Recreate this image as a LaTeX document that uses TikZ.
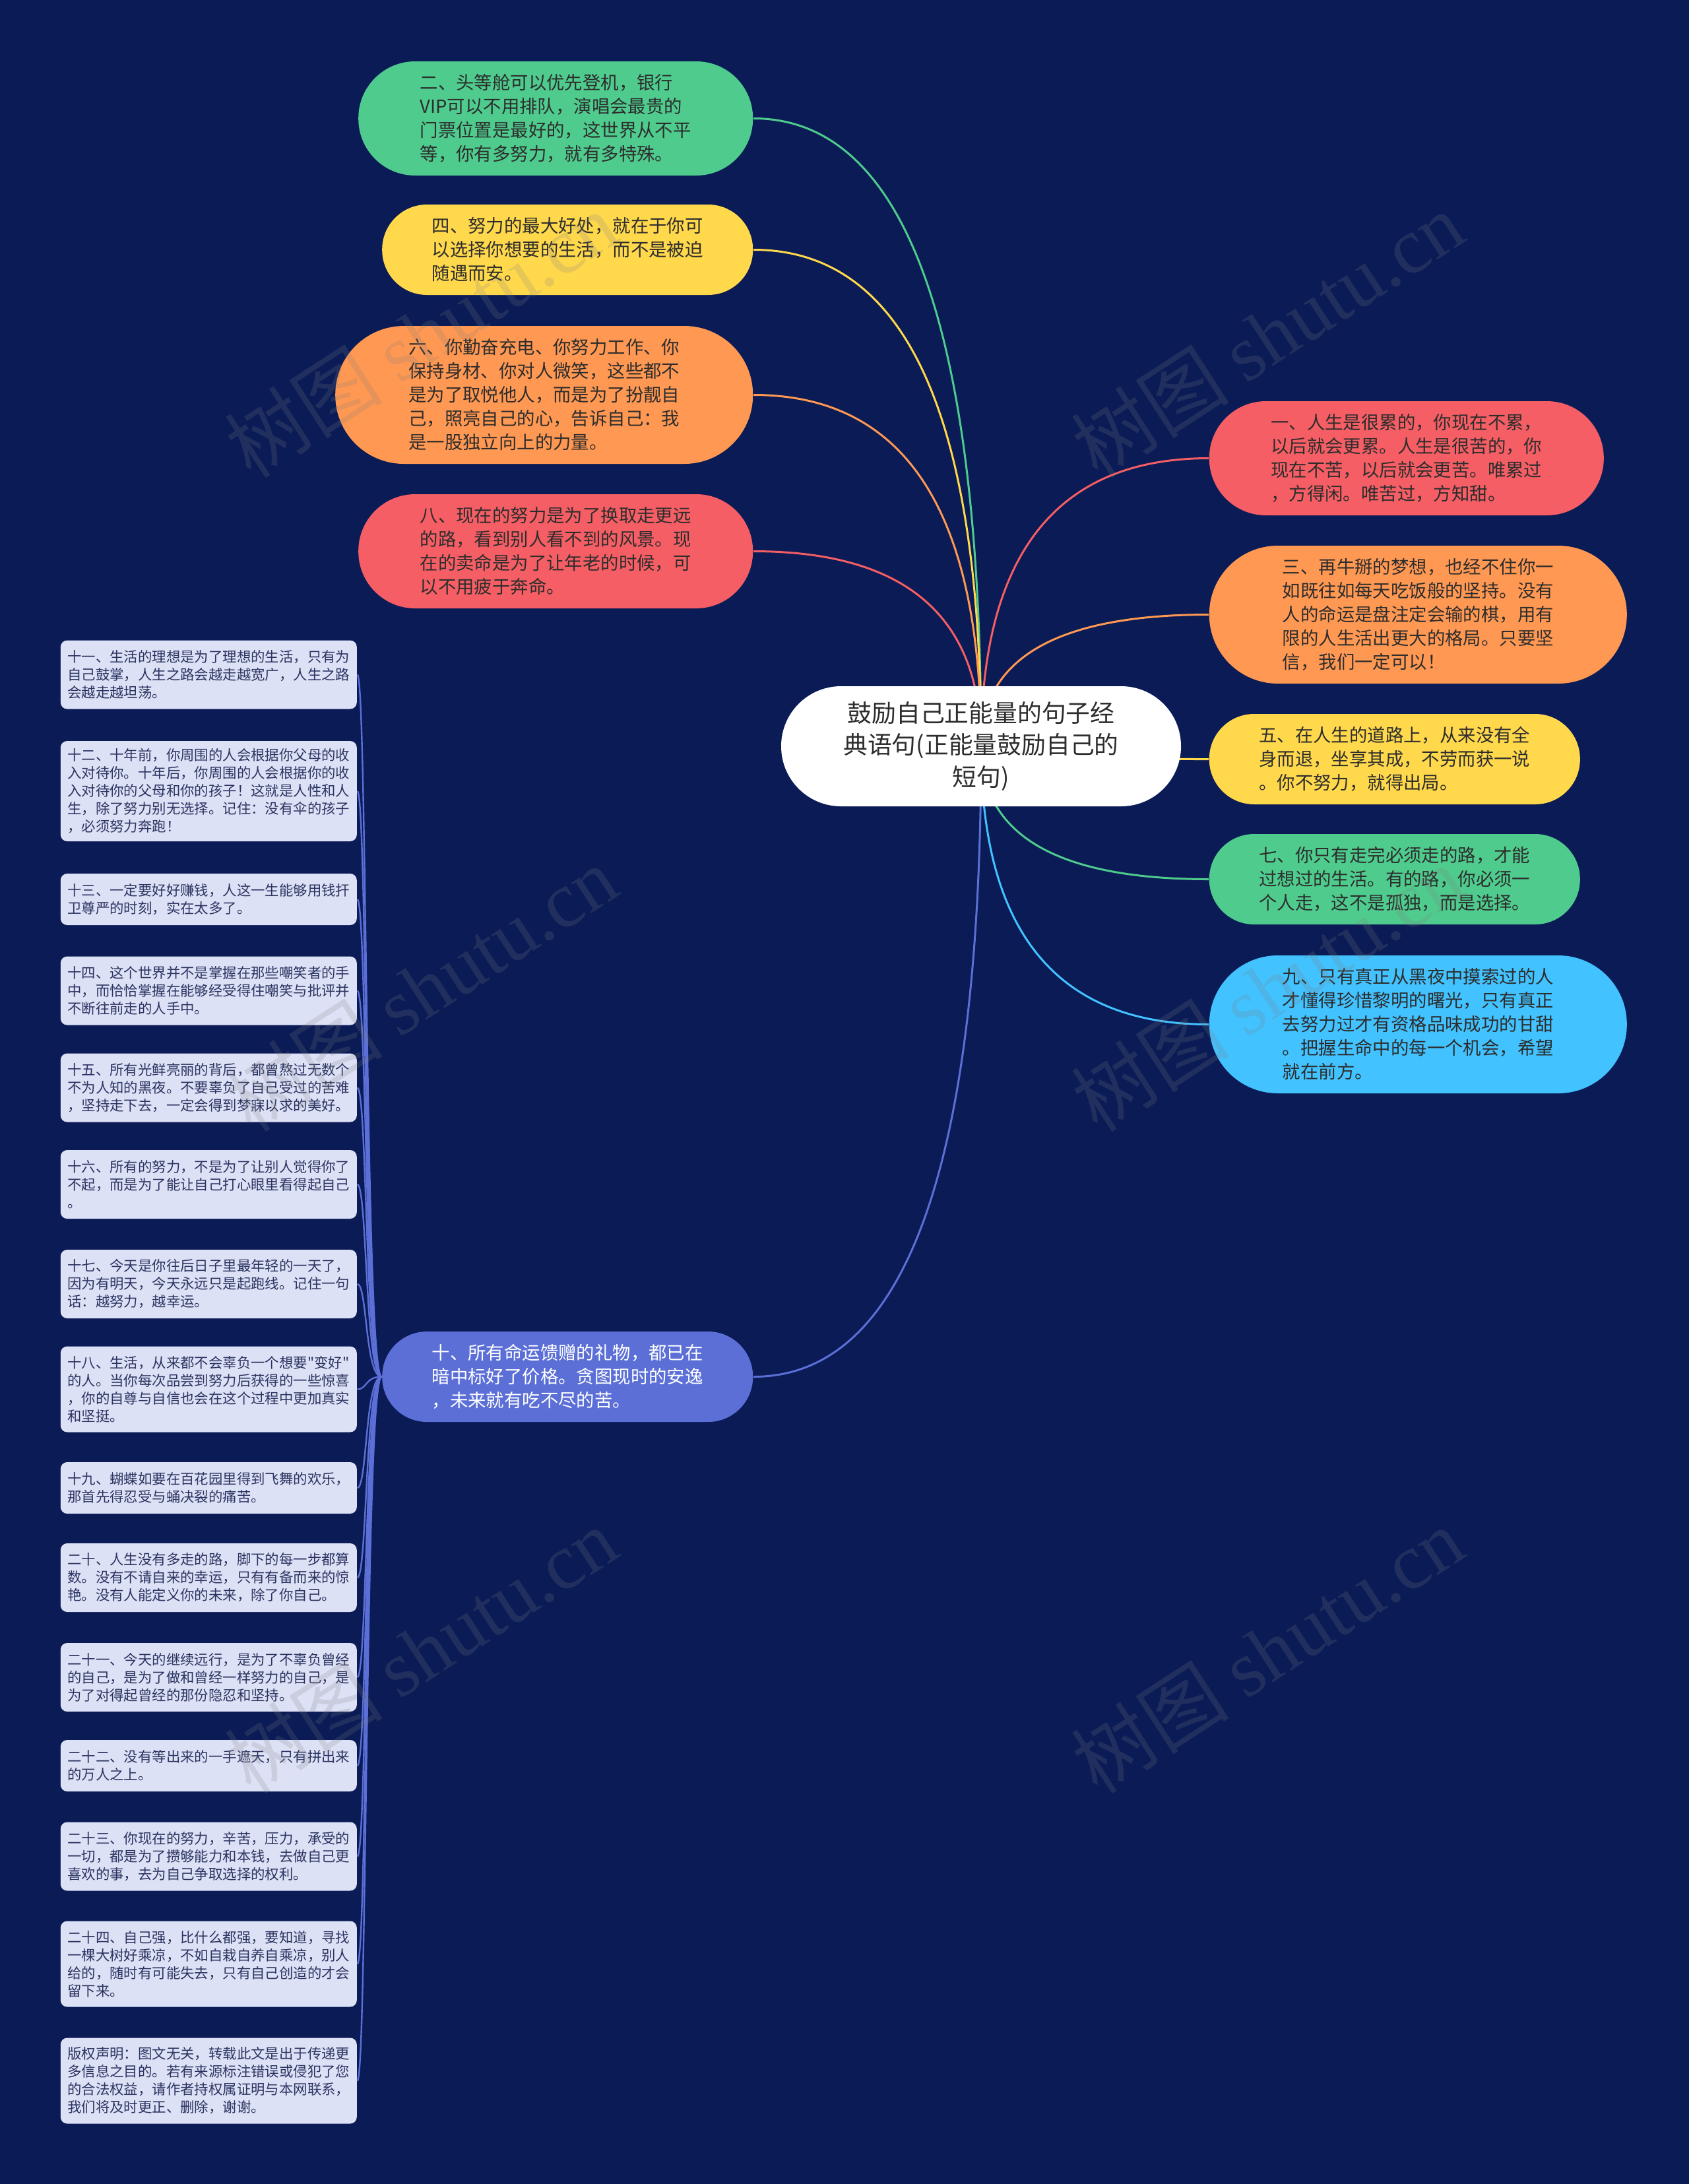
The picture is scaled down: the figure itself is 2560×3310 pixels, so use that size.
\documentclass[tikz,border=0pt]{standalone}
\usepackage{fontspec}
\setmainfont{Noto Sans CJK SC}[Ligatures=TeXOff]
\newfontfamily\wmlatin{Liberation Serif}
\usetikzlibrary{calc}
\definecolor{bgc}{HTML}{0A1B56}
\definecolor{cgreen}{HTML}{4ECB8D}
\definecolor{cyellow}{HTML}{FFD84C}
\definecolor{corange}{HTML}{FF9852}
\definecolor{cred}{HTML}{F45E64}
\definecolor{csky}{HTML}{42C2FF}
\definecolor{cperi}{HTML}{5B6FD6}
\definecolor{leafc}{HTML}{DDE1F5}
\definecolor{txtdark}{HTML}{2D2D2D}
\definecolor{leaftxt}{HTML}{2B3461}
\definecolor{wmc}{HTML}{808080}
\pgfdeclarelayer{back}
\pgfdeclarelayer{lines}
\pgfsetlayers{back,lines,main}
\newcommand\qlink[3]{\draw[conn,#3] (#1) .. controls ($(#1)!0.667!(#1|-#2)$) and ($(#2)!0.667!(#1|-#2)$) .. (#2);}
\newcommand\llink[1]{\draw[lconn] (n10.west) .. controls +(-25,0) and +(15,0) .. (#1.east);}
\begin{document}
\begin{tikzpicture}[x=0.25pt,y=-0.25pt,
  branch/.style={inner sep=0pt, align=left, text=txtdark, font=\fontsize{6.85pt}{9pt}\selectfont},
  bthree/.style={branch, minimum width=140.5pt, minimum height=34.25pt, rounded corners=17pt},
  bfour/.style={branch, minimum width=149.5pt, minimum height=43.25pt, rounded corners=21.5pt},
  bfive/.style={branch, minimum width=158.25pt, minimum height=52.25pt, rounded corners=26pt},
  leafbox/.style={fill=leafc, inner sep=0pt, align=left, text=leaftxt, minimum width=112.25pt, rounded corners=2.5pt, font=\fontsize{5.35pt}{6.75pt}\selectfont, anchor=west},
  leaftwo/.style={leafbox, minimum height=19.5pt},
  leafthree/.style={leafbox, minimum height=26pt},
  leaffour/.style={leafbox, minimum height=32.5pt},
  leaffive/.style={leafbox, minimum height=38pt},
  conn/.style={line width=0.75pt},
  lconn/.style={line width=0.6pt, cperi},
  wm/.style={rotate=33, text=wmc, text opacity=0.2, font=\fontsize{30pt}{30pt}\selectfont, inner sep=0pt}
]
\begin{pgfonlayer}{back}
\fill[bgc] (0,0) rectangle (2560,3310);
\end{pgfonlayer}
\useasboundingbox (0,0) rectangle (2560,3310);

% center
\node[fill=white, inner sep=0pt, align=center, text=txtdark, minimum width=151.5pt, minimum height=45.5pt, rounded corners=22.7pt, font=\fontsize{9.2pt}{12.1pt}\selectfont] (c) at (1487,1131) {鼓励自己正能量的句子经\\典语句(正能量鼓励自己的\\短句)};

% left branches
\node[bfour, fill=cgreen, anchor=east] (n2) at (1142,179.5) {二、头等舱可以优先登机，银行\\VIP可以不用排队，演唱会最贵的\\门票位置是最好的，这世界从不平\\等，你有多努力，就有多特殊。};
\node[bthree, fill=cyellow, anchor=east] (n4) at (1142,378.5) {四、努力的最大好处，就在于你可\\以选择你想要的生活，而不是被迫\\随遇而安。};
\node[bfive, fill=corange, anchor=east] (n6) at (1142,598.5) {六、你勤奋充电、你努力工作、你\\保持身材、你对人微笑，这些都不\\是为了取悦他人，而是为了扮靓自\\己，照亮自己的心，告诉自己：我\\是一股独立向上的力量。};
\node[bfour, fill=cred, anchor=east] (n8) at (1142,835.5) {八、现在的努力是为了换取走更远\\的路，看到别人看不到的风景。现\\在的卖命是为了让年老的时候，可\\以不用疲于奔命。};
\node[bthree, fill=cperi, text=white, anchor=east] (n10) at (1142,2086.5) {十、所有命运馈赠的礼物，都已在\\暗中标好了价格。贪图现时的安逸\\，未来就有吃不尽的苦。};

% right branches
\node[bfour, fill=cred, anchor=west] (n1) at (1832,694.5) {一、人生是很累的，你现在不累，\\以后就会更累。人生是很苦的，你\\现在不苦，以后就会更苦。唯累过\\，方得闲。唯苦过，方知甜。};
\node[bfive, fill=corange, anchor=west] (n3) at (1832,931.5) {三、再牛掰的梦想，也经不住你一\\如既往如每天吃饭般的坚持。没有\\人的命运是盘注定会输的棋，用有\\限的人生活出更大的格局。只要坚\\信，我们一定可以！};
\node[bthree, fill=cyellow, anchor=west] (n5) at (1832,1150.5) {五、在人生的道路上，从来没有全\\身而退，坐享其成，不劳而获一说\\。你不努力，就得出局。};
\node[bthree, fill=cgreen, anchor=west] (n7) at (1832,1332.5) {七、你只有走完必须走的路，才能\\过想过的生活。有的路，你必须一\\个人走，这不是孤独，而是选择。};
\node[bfive, fill=csky, anchor=west] (n9) at (1832,1552.5) {九、只有真正从黑夜中摸索过的人\\才懂得珍惜黎明的曙光，只有真正\\去努力过才有资格品味成功的甘甜\\。把握生命中的每一个机会，希望\\就在前方。};

% leaves
\node[leafthree] (l11) at (91,1022.5) {十一、生活的理想是为了理想的生活，只有为\\自己鼓掌，人生之路会越走越宽广，人生之路\\会越走越坦荡。};
\node[leaffive] (l12) at (91,1199) {十二、十年前，你周围的人会根据你父母的收\\入对待你。十年后，你周围的人会根据你的收\\入对待你的父母和你的孩子！这就是人性和人\\生，除了努力别无选择。记住：没有伞的孩子\\，必须努力奔跑！};
\node[leaftwo] (l13) at (91,1363) {十三、一定要好好赚钱，人这一生能够用钱扞\\卫尊严的时刻，实在太多了。};
\node[leafthree] (l14) at (91,1501.5) {十四、这个世界并不是掌握在那些嘲笑者的手\\中，而恰恰掌握在能够经受得住嘲笑与批评并\\不断往前走的人手中。};
\node[leafthree] (l15) at (91,1648.5) {十五、所有光鲜亮丽的背后，都曾熬过无数个\\不为人知的黑夜。不要辜负了自己受过的苦难\\，坚持走下去，一定会得到梦寐以求的美好。};
\node[leafthree] (l16) at (91,1795) {十六、所有的努力，不是为了让别人觉得你了\\不起，而是为了能让自己打心眼里看得起自己\\。};
\node[leafthree] (l17) at (91,1946) {十七、今天是你往后日子里最年轻的一天了，\\因为有明天，今天永远只是起跑线。记住一句\\话：越努力，越幸运。};
\node[leaffour] (l18) at (91,2105.5) {十八、生活，从来都不会辜负一个想要"变好"\\的人。当你每次品尝到努力后获得的一些惊喜\\，你的自尊与自信也会在这个过程中更加真实\\和坚挺。};
\node[leaftwo] (l19) at (91,2255) {十九、蝴蝶如要在百花园里得到飞舞的欢乐，\\那首先得忍受与蛹决裂的痛苦。};
\node[leafthree] (l20) at (91,2391) {二十、人生没有多走的路，脚下的每一步都算\\数。没有不请自来的幸运，只有有备而来的惊\\艳。没有人能定义你的未来，除了你自己。};
\node[leafthree] (l21) at (91,2542) {二十一、今天的继续远行，是为了不辜负曾经\\的自己，是为了做和曾经一样努力的自己，是\\为了对得起曾经的那份隐忍和坚持。};
\node[leaftwo] (l22) at (91,2676) {二十二、没有等出来的一手遮天，只有拼出来\\的万人之上。};
\node[leafthree] (l23) at (91,2813.5) {二十三、你现在的努力，辛苦，压力，承受的\\一切，都是为了攒够能力和本钱，去做自己更\\喜欢的事，去为自己争取选择的权利。};
\node[leaffour] (l24) at (91,2976.5) {二十四、自己强，比什么都强，要知道，寻找\\一棵大树好乘凉，不如自栽自养自乘凉，别人\\给的，随时有可能失去，只有自己创造的才会\\留下来。};
\node[leaffour] (l25) at (91,3153.5) {版权声明：图文无关，转载此文是出于传递更\\多信息之目的。若有来源标注错误或侵犯了您\\的合法权益，请作者持权属证明与本网联系，\\我们将及时更正、删除，谢谢。};

% connectors
\begin{pgfonlayer}{lines}
\qlink{c.center}{n2.east}{cgreen}
\qlink{c.center}{n4.east}{cyellow}
\qlink{c.center}{n6.east}{corange}
\qlink{c.center}{n8.east}{cred}
\qlink{c.center}{n10.east}{cperi}
\qlink{c.center}{n1.west}{cred}
\qlink{c.center}{n3.west}{corange}
\qlink{c.center}{n5.west}{cyellow}
\qlink{c.center}{n7.west}{cgreen}
\qlink{c.center}{n9.west}{csky}
\llink{l11}\llink{l12}\llink{l13}\llink{l14}\llink{l15}
\llink{l16}\llink{l17}\llink{l18}\llink{l19}\llink{l20}
\llink{l21}\llink{l22}\llink{l23}\llink{l24}\llink{l25}
\end{pgfonlayer}

% watermarks
\node[wm] (w1) at (638,507) {树图 {\wmlatin shutu.cn}};
\node[wm] (w2) at (1921,507) {树图 {\wmlatin shutu.cn}};
\node[wm] (w3) at (638,1498) {树图 {\wmlatin shutu.cn}};
\node[wm] (w4) at (1921,1498) {树图 {\wmlatin shutu.cn}};
\node[wm] (w5) at (638,2501) {树图 {\wmlatin shutu.cn}};
\node[wm] (w6) at (1921,2501) {树图 {\wmlatin shutu.cn}};
\end{tikzpicture}
\end{document}
